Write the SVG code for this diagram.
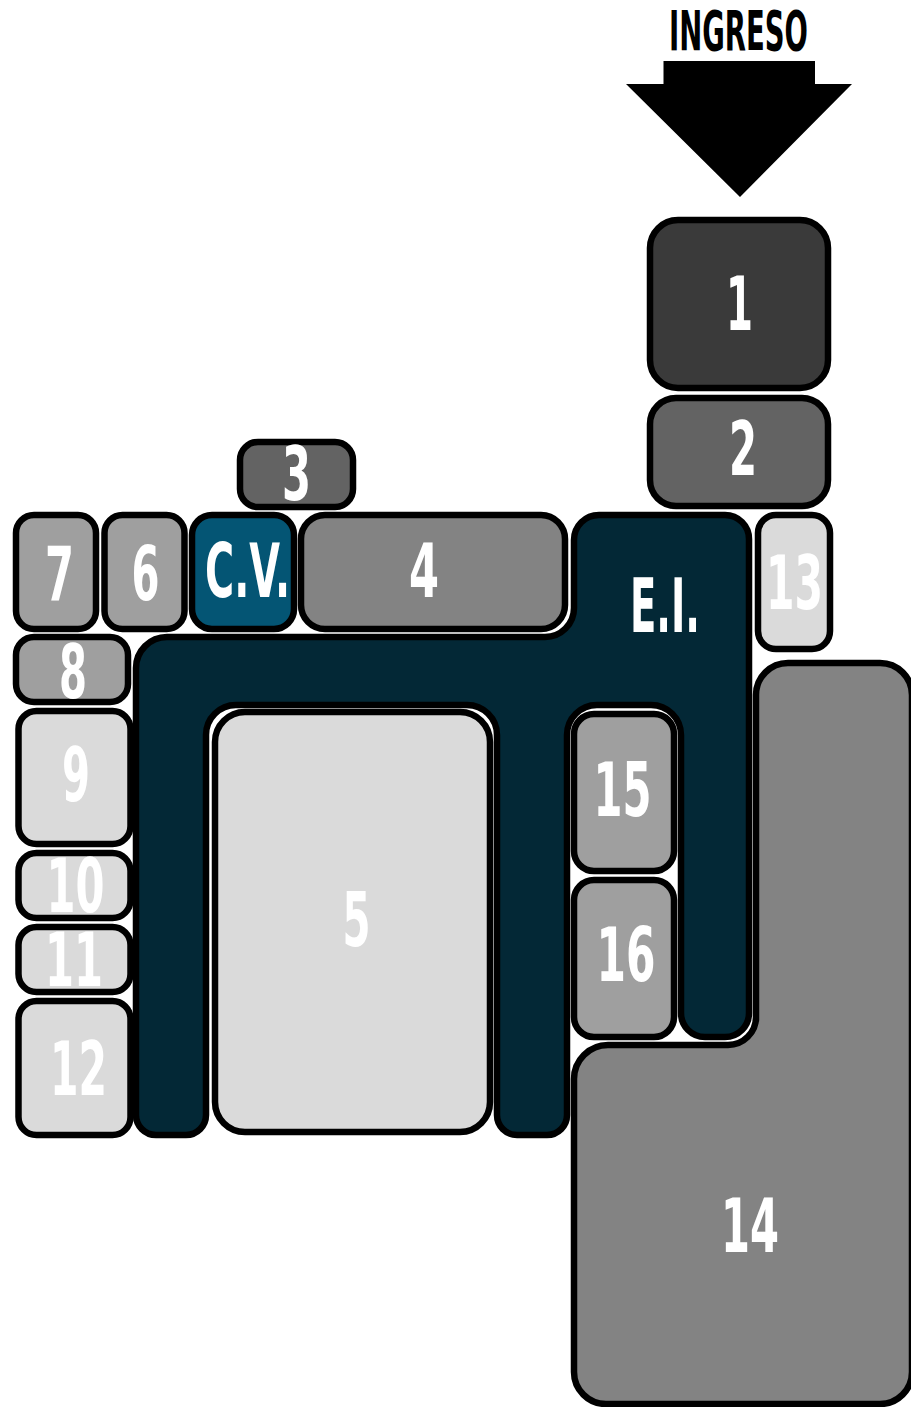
<svg xmlns="http://www.w3.org/2000/svg" width="911" height="1407" viewBox="0 0 911 1407">
<style>
.b{stroke:#000;stroke-width:6.500;stroke-linejoin:round}
.t{font-family:"DejaVu Sans","Liberation Sans",sans-serif;font-weight:700;font-size:74px;fill:#fff}
.k{fill:#000;font-size:55px}
.d1{fill:#3a3a3a}.d2{fill:#636363}.m{fill:#838383}.g{fill:#9f9f9f}.l{fill:#dadada}
</style>
<rect width="911" height="1407" fill="#fff"/>
<g id="ingreso">
<polygon points="663.5,61 815,61 815,84 852,84 740,197 626,84 663.5,84"/>
<text class="t k" x="669" y="50" textLength="139" lengthAdjust="spacingAndGlyphs">INGRESO</text>
</g>
<g id="connectors"></g>
<g id="n14"><path class="b m" d="M756 1020V695A32 32 0 0 1 788 663H880A32 32 0 0 1 912 695V1372A32 32 0 0 1 880 1404H606A32 32 0 0 1 574 1372V1079A34 34 0 0 1 608 1045H728A28 28 0 0 0 756 1017Z"/><text class="t" x="721" y="1252" textLength="58" lengthAdjust="spacingAndGlyphs">14</text></g>
<g id="nEI"><path class="b" fill="#032836" d="M136 668A31 31 0 0 1 167 637H545A29 29 0 0 0 574 608V540A25 25 0 0 1 599 515H725A24 24 0 0 1 749 539V1013A24 24 0 0 1 725 1037H705A24 24 0 0 1 681 1013V735A30 30 0 0 0 651 705H597A30 30 0 0 0 567 735V1115A20 20 0 0 1 547 1135H517A20 20 0 0 1 497 1115V735A30 30 0 0 0 467 705H236A30 30 0 0 0 206 735V1115A20 20 0 0 1 186 1135H156A20 20 0 0 1 136 1115Z"/><text class="t" x="630" y="632" textLength="70" lengthAdjust="spacingAndGlyphs">E.I.</text></g>
<g id="n1"><rect class="b d1" x="650" y="220" width="178" height="168" rx="28"/><text class="t" x="726" y="330" textLength="27" lengthAdjust="spacingAndGlyphs">1</text></g>
<g id="n2"><rect class="b d2" x="650" y="398" width="178" height="108" rx="26"/><text class="t" x="729" y="475" textLength="28" lengthAdjust="spacingAndGlyphs">2</text></g>
<g id="n3"><rect class="b d2" x="240" y="442" width="113" height="65" rx="18"/><text class="t" x="282" y="500" textLength="29" lengthAdjust="spacingAndGlyphs">3</text></g>
<g id="n7"><rect class="b g" x="16" y="515" width="80" height="114" rx="18"/><text class="t" x="45" y="600" textLength="29" lengthAdjust="spacingAndGlyphs">7</text></g>
<g id="n6"><rect class="b g" x="104.500" y="515" width="80" height="114" rx="18"/><text class="t" x="131.500" y="600" textLength="28" lengthAdjust="spacingAndGlyphs">6</text></g>
<g id="nCV"><rect class="b" fill="#045574" x="192" y="515" width="102" height="114" rx="20"/><text class="t" x="205" y="597" textLength="85" lengthAdjust="spacingAndGlyphs">C.V.</text></g>
<g id="n4"><rect class="b m" x="301" y="515" width="264" height="114" rx="24"/><text class="t" x="409" y="597" textLength="30" lengthAdjust="spacingAndGlyphs">4</text></g>
<g id="n8"><rect class="b g" x="16" y="637" width="112" height="65" rx="18"/><text class="t" x="59" y="698" textLength="28" lengthAdjust="spacingAndGlyphs">8</text></g>
<g id="n9"><rect class="b l" x="18.500" y="711" width="112" height="133" rx="18"/><text class="t" x="62" y="801" textLength="28" lengthAdjust="spacingAndGlyphs">9</text></g>
<g id="n10"><rect class="b l" x="18.500" y="853" width="112" height="65" rx="18"/><text class="t" x="46.500" y="912" textLength="58" lengthAdjust="spacingAndGlyphs">10</text></g>
<g id="n11"><rect class="b l" x="18.500" y="927" width="112" height="65" rx="18"/><text class="t" x="45" y="986" textLength="58" lengthAdjust="spacingAndGlyphs">11</text></g>
<g id="n12"><rect class="b l" x="18.500" y="1001" width="112" height="134" rx="18"/><text class="t" x="50" y="1095" textLength="57" lengthAdjust="spacingAndGlyphs">12</text></g>
<g id="n13"><rect class="b l" x="758" y="515" width="72" height="134" rx="18"/><text class="t" x="766" y="609" textLength="57" lengthAdjust="spacingAndGlyphs">13</text></g>
<g id="n5"><rect class="b l" x="215" y="712" width="275" height="420" rx="30"/><text class="t" x="342.500" y="946" textLength="28" lengthAdjust="spacingAndGlyphs">5</text></g>
<g id="n15"><rect class="b g" x="574" y="714" width="100" height="157" rx="20"/><text class="t" x="593.500" y="816" textLength="58" lengthAdjust="spacingAndGlyphs">15</text></g>
<g id="n16"><rect class="b g" x="574" y="880" width="100" height="157" rx="20"/><text class="t" x="596.500" y="981" textLength="59" lengthAdjust="spacingAndGlyphs">16</text></g>
</svg>
